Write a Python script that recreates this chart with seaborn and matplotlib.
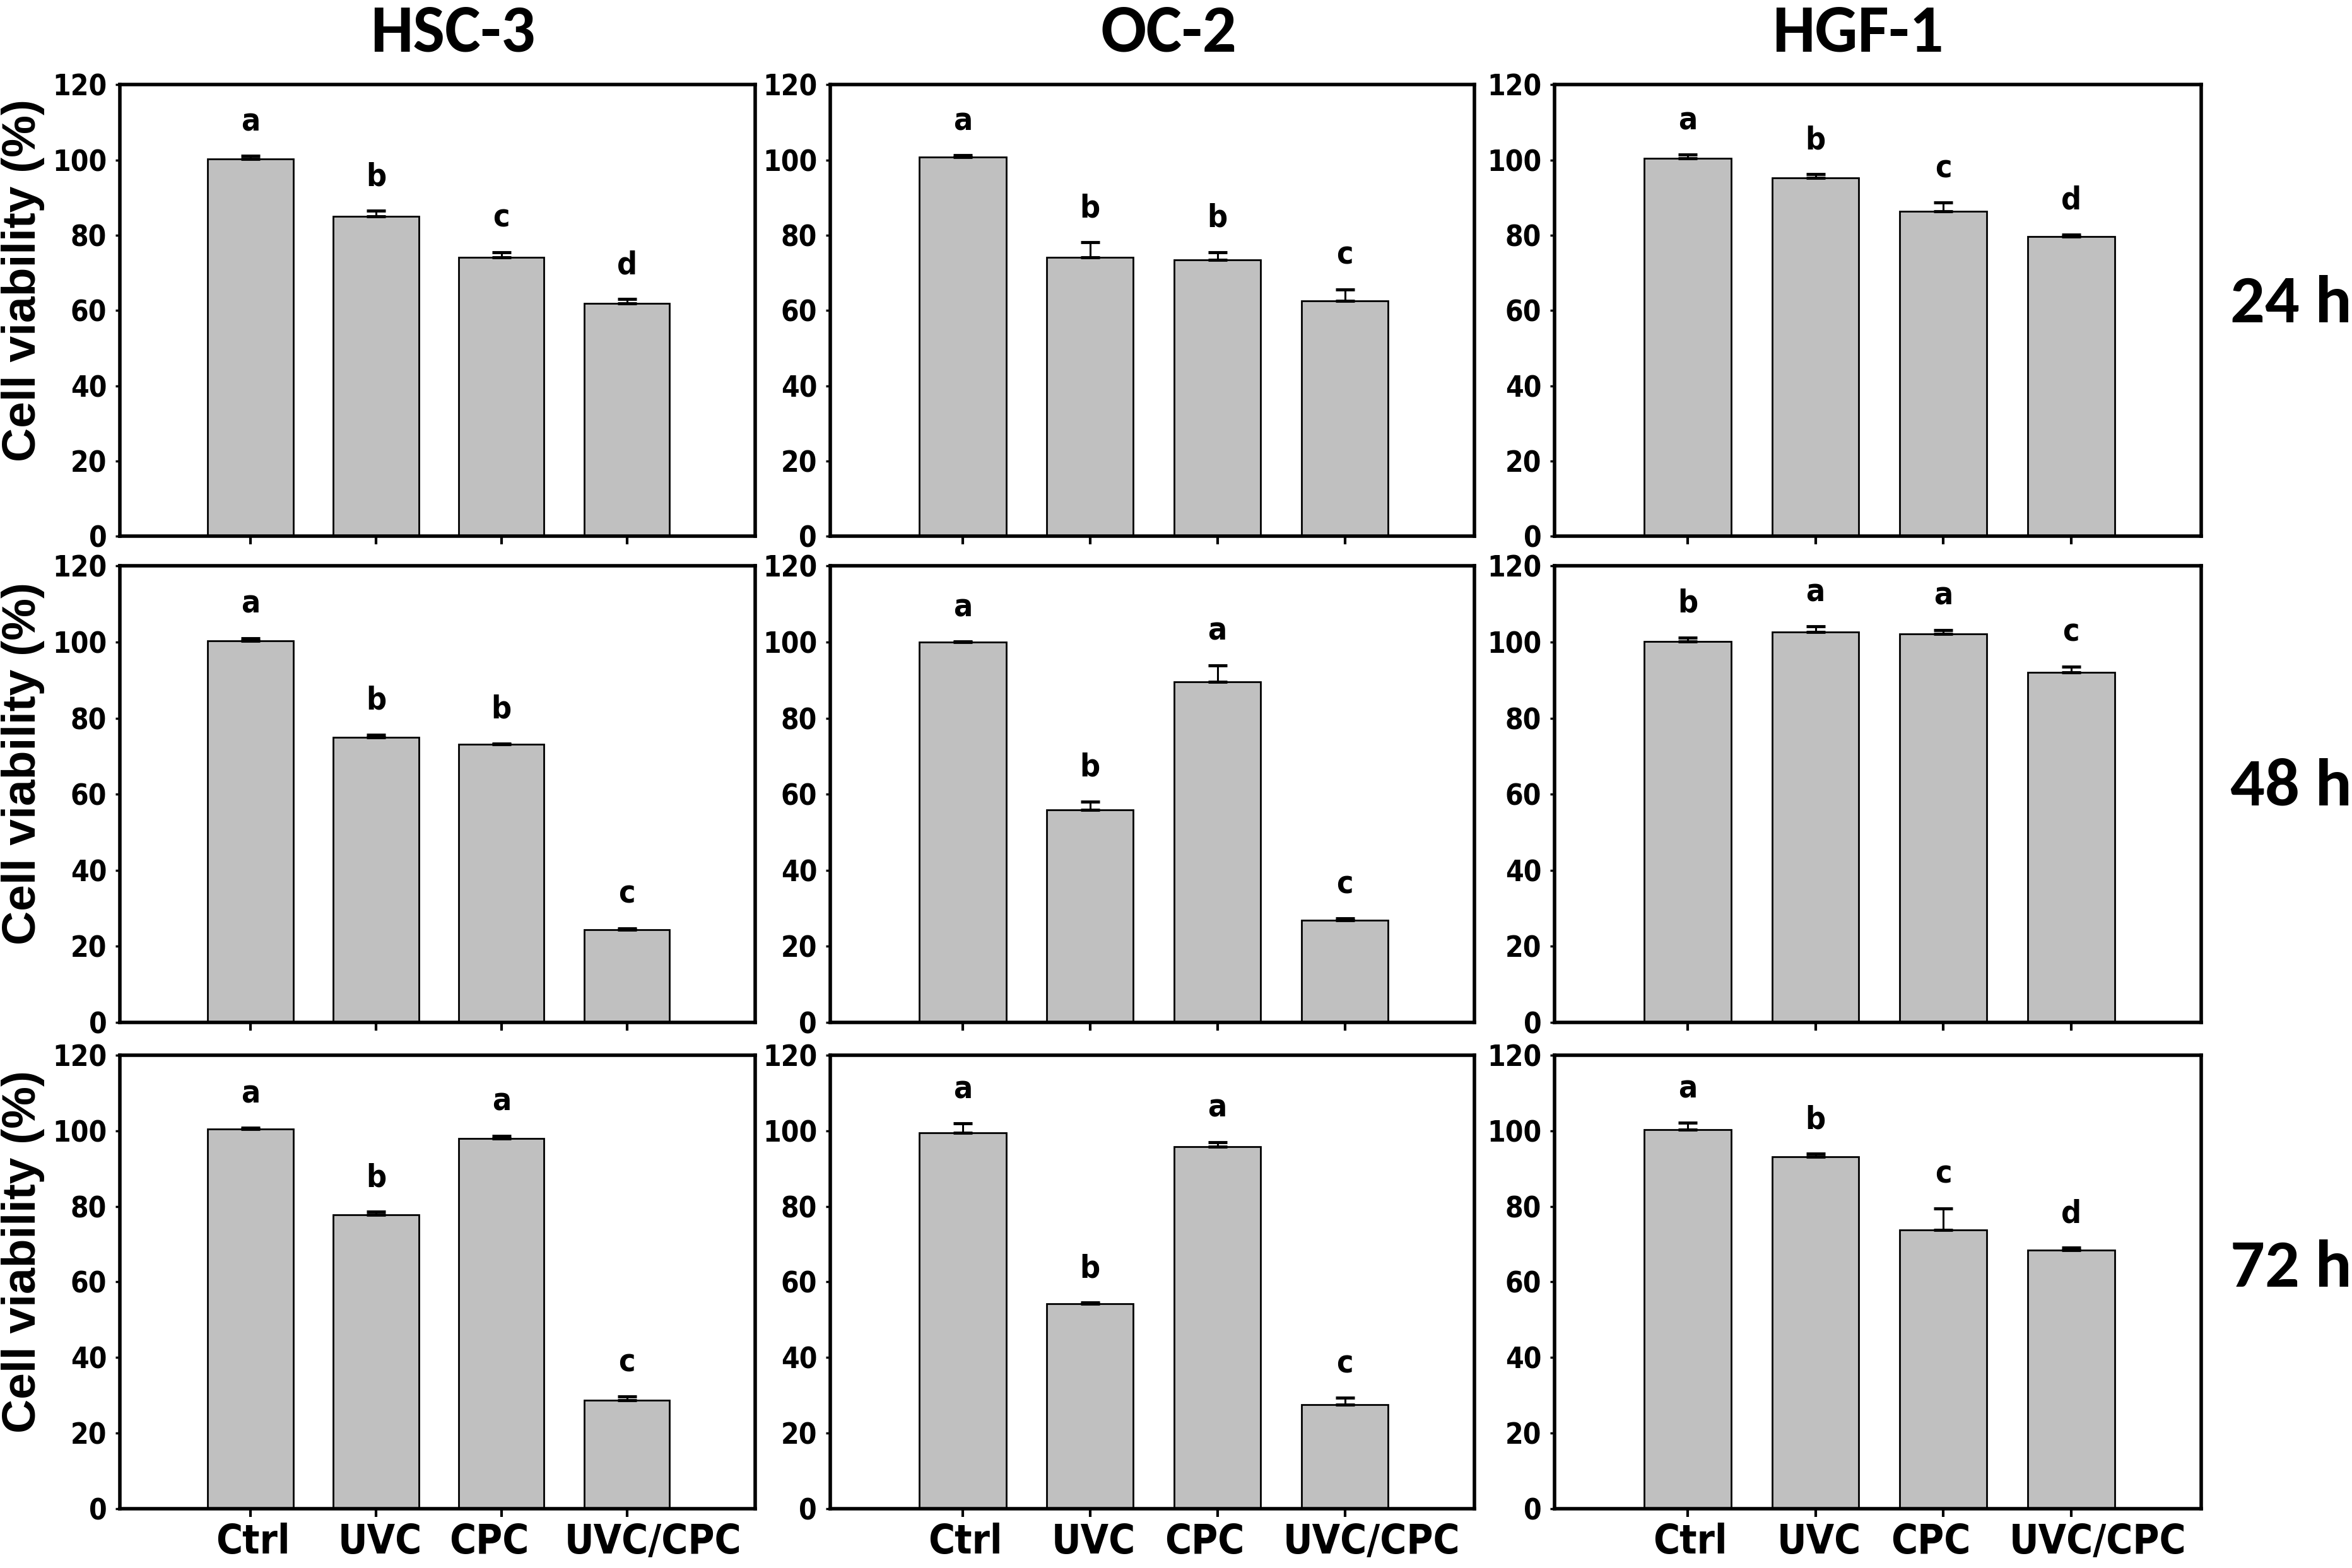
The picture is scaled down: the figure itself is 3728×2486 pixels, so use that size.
import matplotlib
matplotlib.use('Agg')
import numpy as np
import pandas as pd
import seaborn as sns
from matplotlib import pyplot as plt

groups = ['Ctrl', 'UVC', 'CPC', 'UVC/CPC']
cell_lines = ['HSC-3', 'OC-2', 'HGF-1']
times = ['24 h', '48 h', '72 h']

# 24 h
hsc3_24 = [100.3, 85.0, 74.2, 61.8]
hsc3_24_err = [0.8, 1.5, 1.3, 1.2]
hsc3_24_sig = ['a', 'b', 'c', 'd']
oc2_24 = [100.7, 74.1, 73.5, 62.5]
oc2_24_err = [0.5, 4.0, 2.0, 3.1]
oc2_24_sig = ['a', 'b', 'b', 'c']
hgf1_24 = [100.5, 95.3, 86.4, 79.6]
hgf1_24_err = [0.9, 0.9, 2.3, 0.6]
hgf1_24_sig = ['a', 'b', 'c', 'd']

# 48 h
hsc3_48 = [100.4, 75.0, 73.2, 24.3]
hsc3_48_err = [0.6, 0.6, 0.1, 0.4]
hsc3_48_sig = ['a', 'b', 'b', 'c']
oc2_48 = [100.0, 55.8, 89.6, 26.9]
oc2_48_err = [0.1, 2.3, 4.3, 0.4]
oc2_48_sig = ['a', 'b', 'a', 'c']
hgf1_48 = [100.1, 102.7, 102.1, 92.1]
hgf1_48_err = [1.1, 1.4, 1.1, 1.5]
hgf1_48_sig = ['b', 'a', 'a', 'c']

# 72 h
hsc3_72 = [100.4, 77.7, 98.0, 28.7]
hsc3_72_err = [0.4, 0.9, 0.7, 0.9]
hsc3_72_sig = ['a', 'b', 'a', 'c']
oc2_72 = [99.4, 54.2, 95.8, 27.4]
oc2_72_err = [2.5, 0.3, 1.2, 1.9]
oc2_72_sig = ['a', 'b', 'a', 'c']
hgf1_72 = [100.3, 93.2, 73.8, 68.4]
hgf1_72_err = [1.8, 0.7, 5.7, 0.6]
hgf1_72_sig = ['a', 'b', 'c', 'd']

panels = [
    [(hsc3_24, hsc3_24_err, hsc3_24_sig), (oc2_24, oc2_24_err, oc2_24_sig), (hgf1_24, hgf1_24_err, hgf1_24_sig)],
    [(hsc3_48, hsc3_48_err, hsc3_48_sig), (oc2_48, oc2_48_err, oc2_48_sig), (hgf1_48, hgf1_48_err, hgf1_48_sig)],
    [(hsc3_72, hsc3_72_err, hsc3_72_sig), (oc2_72, oc2_72_err, oc2_72_sig), (hgf1_72, hgf1_72_err, hgf1_72_sig)],
]

sns.set_style('ticks')
# narrow bold font for numbers / letters (condensed DejaVu)
narrow = ['DejaVu Sans']
plt.rcParams['font.family'] = narrow
plt.rcParams['font.stretch'] = 'condensed'
for key in ['text.color', 'axes.labelcolor', 'xtick.color', 'ytick.color', 'axes.edgecolor']:
    plt.rcParams[key] = 'black'
title_font = ['Carlito', 'Lato', 'DejaVu Sans']
label_font = ['Liberation Sans', 'DejaVu Sans']

fig = plt.figure(figsize=(37.28, 24.86), dpi=100)

col_left = [0.051, 0.353, 0.661]
col_w = [0.270, 0.274, 0.275]
row_bottom = [0.658, 0.348, 0.038]
row_h = [0.288, 0.291, 0.289]

# the bottom labels are not exactly centred under their ticks in the original
label_shift = [0.02, 0.03, -0.10, 0.21]

for r in range(3):
    for c in range(3):
        vals, errs, sig = panels[r][c]
        ax = fig.add_axes([col_left[c], row_bottom[r], col_w[c], row_h[r]])
        df = pd.DataFrame({'group': groups, 'viability': vals})
        sns.barplot(data=df, x='group', y='viability', color='#c0c0c0', saturation=1,
                    edgecolor='black', linewidth=2, width=0.68, errorbar=None, ax=ax)
        ax.errorbar(np.arange(len(groups)), vals, yerr=[np.zeros(len(errs)), errs],
                    fmt='none', ecolor='black', elinewidth=2.2, capsize=11, capthick=3.5, zorder=3)
        for i, (v, e, s) in enumerate(zip(vals, errs, sig)):
            ax.text(i, v + e + 5.0, s, ha='center', va='bottom', fontsize=36,
                    fontweight='bold', family=narrow, fontstretch='condensed')

        ax.set_xlim(-1.04, 4.02)
        ax.set_ylim(0, 120)
        ax.set_yticks(np.arange(0, 121, 20))
        ax.set_xlabel('')
        if c == 0:
            ax.set_ylabel('Cell viability (%)', fontsize=54, fontweight='bold',
                          family=label_font, fontstretch='normal')
            ax.yaxis.set_label_coords(-0.118, 0.567)
        else:
            ax.set_ylabel('')
        ax.set_xticks(range(len(groups)))
        ax.set_xticklabels([])
        if r == 2:
            for i, g in enumerate(groups):
                ax.text(i + label_shift[i], -0.074, g, transform=ax.get_xaxis_transform(),
                        ha='center', va='center', fontsize=46, fontweight='bold',
                        family=narrow, fontstretch='condensed')

        for sp in ax.spines.values():
            sp.set_visible(True)
            sp.set_linewidth(4)
            sp.set_color('black')
        ax.tick_params(axis='x', direction='out', length=9, width=3, pad=14)
        ax.tick_params(axis='y', direction='out', length=5, width=2.5, pad=10, labelsize=33)
        for lab in ax.get_yticklabels():
            lab.set_fontweight('bold')
            lab.set_fontstretch('condensed')

title_x = [0.1926, 0.497, 0.790]
for name, x in zip(cell_lines, title_x):
    fig.text(x, 0.979, name, ha='center', va='center', fontsize=77, fontweight='heavy',
             family=title_font, fontstretch='normal')

time_y = [0.806, 0.498, 0.191]
for t, y in zip(times, time_y):
    fig.text(0.974, y, t, ha='center', va='center', fontsize=78, fontweight='heavy',
             family=title_font, fontstretch='normal')

fig.savefig('out.png', dpi=100, facecolor='white')
